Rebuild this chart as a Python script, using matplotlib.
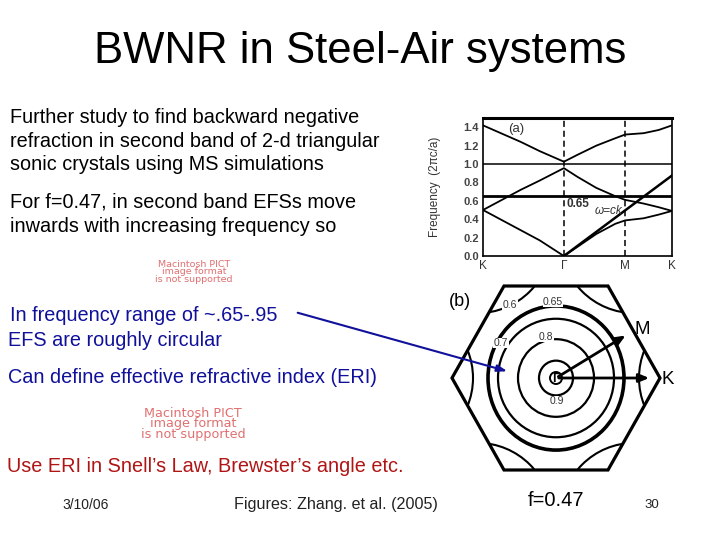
import numpy as np
import matplotlib
matplotlib.use("Agg")
import matplotlib.pyplot as plt
from matplotlib.patches import Polygon, Circle, Ellipse

plt.rcParams['font.family'] = ['Liberation Sans', 'DejaVu Sans']

# ---------------- data: band structure (panel a) ----------------
kpath_labels = ["K", "Γ", "M", "K"]
kpath_pos = [0.0, 0.428, 0.752, 1.0]
freq_ticks = [0.0, 0.2, 0.4, 0.6, 0.8, 1.0, 1.2, 1.4]

band1_x = [0.0, 0.1, 0.2, 0.3, 0.428, 0.5, 0.6, 0.7, 0.752, 0.85, 0.93, 1.0]
band1_y = [0.50, 0.39, 0.28, 0.17, 0.0, 0.10, 0.24, 0.35, 0.387, 0.41, 0.45, 0.49]
band2_x = [0.0, 0.1, 0.2, 0.3, 0.428, 0.5, 0.6, 0.7, 0.752, 0.85, 0.93, 1.0]
band2_y = [0.50, 0.61, 0.72, 0.82, 0.955, 0.86, 0.74, 0.65, 0.61, 0.57, 0.53, 0.49]
band3_x = [0.0, 0.1, 0.2, 0.3, 0.428, 0.5, 0.6, 0.7, 0.752, 0.85, 0.93, 1.0]
band3_y = [1.42, 1.33, 1.24, 1.14, 1.025, 1.10, 1.20, 1.28, 1.32, 1.335, 1.37, 1.42]
flat_band = 1.005
ref_freq = 0.65
light_x = [0.428, 1.0]
light_y = [0.0, 0.875]

# ---------------- data: EFS contours (panel b) ----------------
efs_levels = ["0.9", "0.8", "0.7", "0.65"]
efs_radii = [17, 38, 58, 68]
efs_widths = [1.6, 1.6, 1.6, 2.6]

W, H = 720, 540
fig = plt.figure(figsize=(7.2, 5.4), dpi=100)


def fx(x):
    return x / W


def fy(y):
    return 1 - y / H


# ---------------- text ----------------
fig.text(fx(360), fy(63), "BWNR in Steel-Air systems", ha="center", va="baseline",
         fontsize=31.5, color="black")

FS = 14.3
black_lines = ["Further study to find backward negative",
               "refraction in second band of 2-d triangular",
               "sonic crystals using MS simulations"]
for i, t in enumerate(black_lines):
    fig.text(fx(10), fy(123 + 23.5 * i), t, ha="left", va="baseline", fontsize=FS)
fig.text(fx(10), fy(208), "For f=0.47, in second band EFSs move", ha="left", va="baseline", fontsize=FS)
fig.text(fx(10), fy(232), "inwards with increasing frequency so", ha="left", va="baseline", fontsize=FS)

blue = "#10109a"
fig.text(fx(10), fy(321), "In frequency range of ~.65-.95", ha="left", va="baseline", fontsize=FS, color=blue)
fig.text(fx(8), fy(346), "EFS are roughly circular", ha="left", va="baseline", fontsize=FS, color=blue)
fig.text(fx(8), fy(383), "Can define effective refractive index (ERI)", ha="left", va="baseline",
         fontsize=FS, color=blue)

fig.text(fx(7), fy(472), "Use ERI in Snell\u2019s Law, Brewster\u2019s angle etc.", ha="left", va="baseline",
         fontsize=FS, color="#b01515")

pict = "#e07070"
fig.text(fx(194), fy(272), "Macintosh PICT\nimage format\nis not supported", ha="center", va="center",
         fontsize=6.8, color=pict, linespacing=0.8, family="DejaVu Sans")
fig.text(fx(193), fy(424), "Macintosh PICT\nimage format\nis not supported", ha="center", va="center",
         fontsize=9.2, color=pict, linespacing=0.78, family="DejaVu Sans")

fig.text(fx(86), fy(505), "3/10/06", ha="center", va="center", fontsize=10, color="#222222")
fig.text(fx(336), fy(505), "Figures: Zhang. et al. (2005)", ha="center", va="center", fontsize=11.6, color="#222222")
fig.text(fx(556), fy(500), "f=0.47", ha="center", va="center", fontsize=14.5, color="black")
fig.text(fx(652), fy(505), "30", ha="center", va="center", fontsize=9.5, color="#222222")

# ---------------- panel (a) ----------------
ax = fig.add_axes([fx(483), fy(256), (672 - 483) / W, (256 - 118) / H])
lw = 1.3
ax.plot(band1_x, band1_y, color="black", lw=lw)
ax.plot(band2_x, band2_y, color="black", lw=lw)
ax.plot(band3_x, band3_y, color="black", lw=lw)
ax.axhline(flat_band, color="black", lw=1.1)
ax.axhline(ref_freq, color="black", lw=2.0)
ax.plot(light_x, light_y, color="black", lw=1.8)
for p in kpath_pos[1:3]:
    ax.axvline(p, color="black", lw=1.1, ls=(0, (4, 2.5)))
ax.set_xlim(0, 1)
ax.set_ylim(0, 1.5)
ax.set_xticks(kpath_pos)
ax.set_xticklabels(kpath_labels, fontsize=8.5, color="#333333")
ax.set_yticks(freq_ticks)
ax.set_yticklabels([f"{v:.1f}" for v in freq_ticks], fontsize=8, fontweight="bold", color="#444444")
ax.tick_params(length=0, pad=3)
ax.set_ylabel("Frequency  (2\u03c0c/a)", fontsize=8.5, color="#333333", labelpad=16)
for s in ["left", "right", "bottom"]:
    ax.spines[s].set_linewidth(1.2)
ax.spines["top"].set_linewidth(2.2)
ax.text(0.133, 1.38, "(a)", fontsize=9.5, color="#333333", ha="left", va="center")
ax.text(0.44, 0.56, "0.65", fontsize=8.5, color="#333333", ha="left", va="center", fontweight="bold")
ax.text(0.59, 0.49, "\u03c9=ck", fontsize=8.5, color="#333333", ha="left", va="center", style="italic")

# ---------------- panel (b) ----------------
ov = fig.add_axes([0, 0, 1, 1])
ov.set_xlim(0, W)
ov.set_ylim(H, 0)
ov.axis("off")
ov.patch.set_alpha(0)

cx, cy = 556, 378
R = 104
sy = 92 / 90.07
ang = np.deg2rad(np.arange(0, 360, 60))
hx = cx + R * np.cos(ang)
hy = cy + R * np.sin(ang) * sy
hexagon = Polygon(np.column_stack([hx, hy]), closed=True, fill=False, ec="black", lw=2.3, zorder=3)
ov.add_patch(hexagon)

for a in ang:
    ccx = cx + (R + 53) * np.cos(a)
    ccy = cy + (R + 53) * np.sin(a) * sy
    c = Circle((ccx, ccy), 74, fill=False, ec="black", lw=1.5, zorder=2)
    ov.add_patch(c)
    c.set_clip_path(hexagon)

for lev, r, w in zip(efs_levels, efs_radii, efs_widths):
    stretch = 1.06 if lev == "0.65" else sy
    e = Ellipse((cx, cy), 2 * r, 2 * r * stretch, fill=False, ec="black", lw=w, zorder=2)
    ov.add_patch(e)
ov.add_patch(Circle((cx, cy), 6, fill=False, ec="black", lw=1.4, zorder=2))
ov.text(cx, cy + 1, "Γ", ha="center", va="center", fontsize=9, fontweight="bold", zorder=4)

lab_pos = {"0.9": (557, 401), "0.8": (546, 337), "0.7": (501, 343), "0.65": (553, 302), "0.6": (510, 305)}
for k, (lx, ly) in lab_pos.items():
    ov.text(lx, ly, k, ha="center", va="center", fontsize=7.5, color="#333333", zorder=4,
            bbox=dict(fc="white", ec="none", pad=0.3))

mid_x = (hx[0] + hx[5]) / 2
mid_y = (hy[0] + hy[5]) / 2
ov.annotate("", xy=(mid_x - 6, mid_y + 2), xytext=(cx, cy),
            arrowprops=dict(arrowstyle="-|>,head_length=0.6,head_width=0.25", color="black", lw=2.0), zorder=4)
ov.annotate("", xy=(hx[0] - 8, hy[0]), xytext=(cx, cy),
            arrowprops=dict(arrowstyle="-|>,head_length=0.6,head_width=0.25", color="black", lw=2.0), zorder=4)
ov.text(642, 329, "M", ha="center", va="center", fontsize=13.5)
ov.text(668, 379, "K", ha="center", va="center", fontsize=13.5)
ov.text(460, 302, "(b)", ha="center", va="center", fontsize=13)

ov.annotate("", xy=(510, 372), xytext=(295, 312),
            arrowprops=dict(arrowstyle="-|>,head_length=0.6,head_width=0.2", color=blue, lw=1.5), zorder=5)

fig.savefig("out.png", dpi=100)
